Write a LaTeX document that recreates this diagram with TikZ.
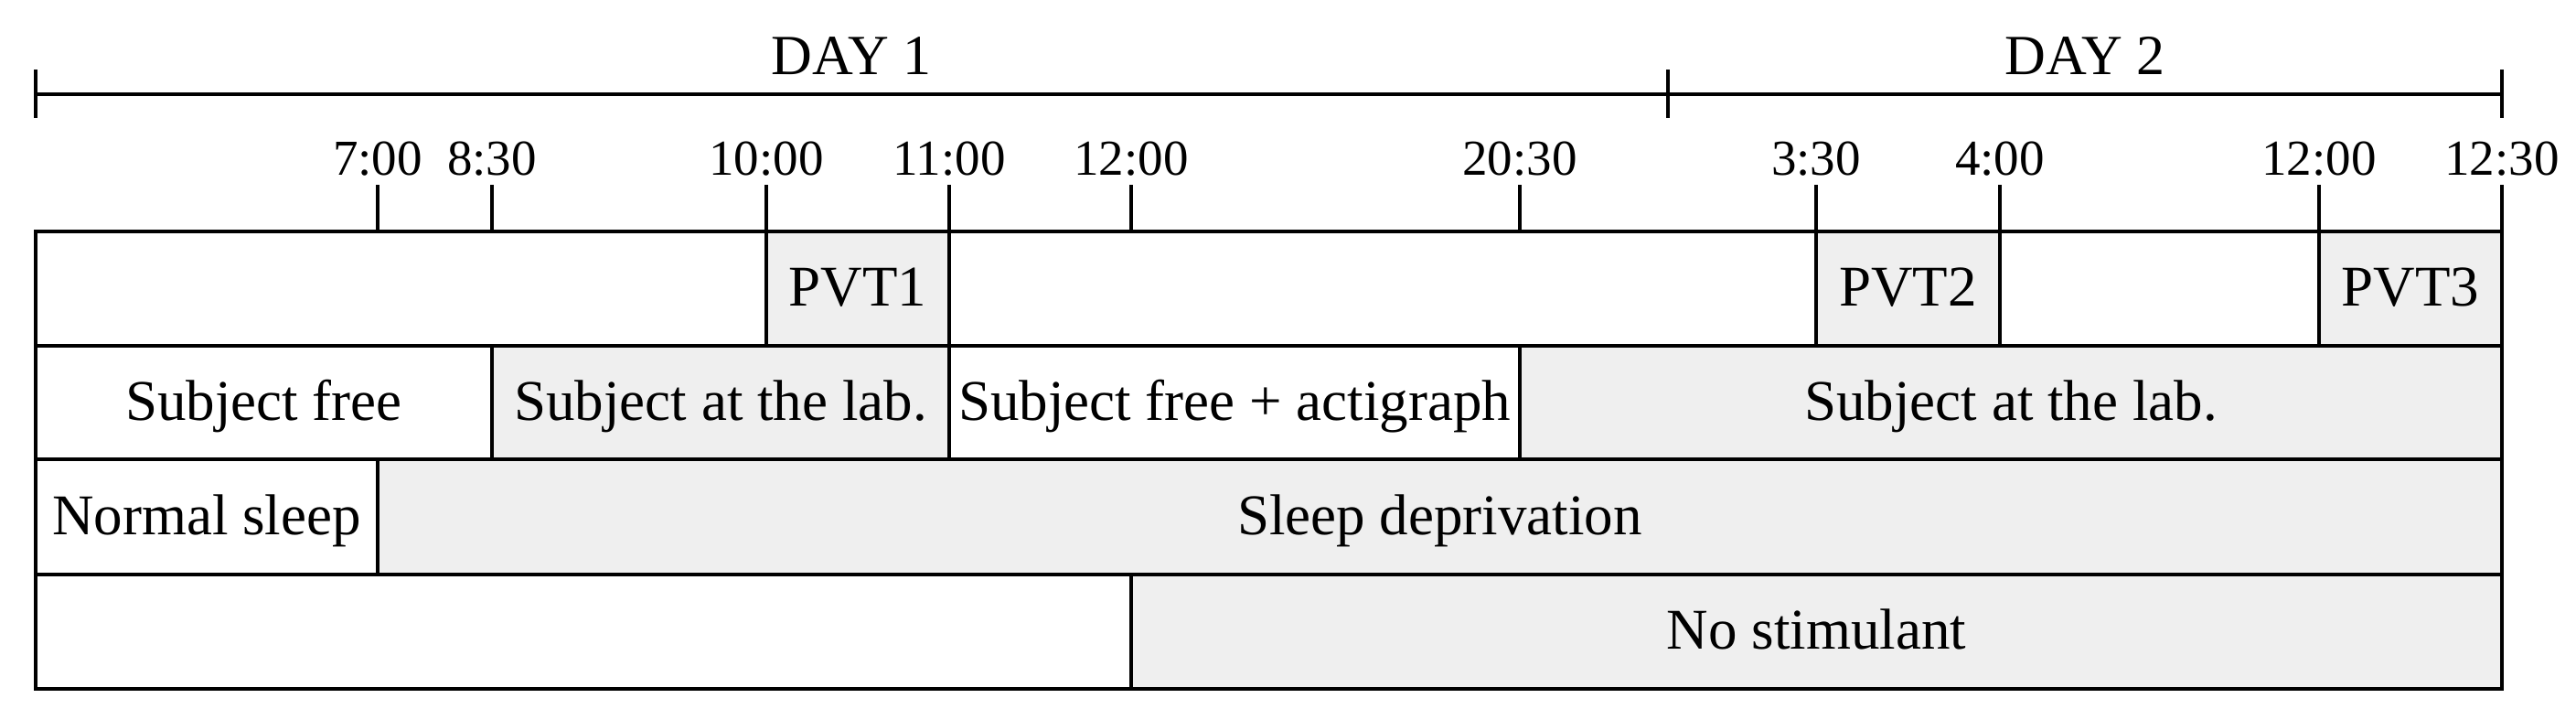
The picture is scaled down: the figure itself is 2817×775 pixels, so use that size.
\documentclass[tikz,border=0pt]{standalone}
\usepackage{fontspec}
\setmainfont{Liberation Serif}
\definecolor{cellgray}{HTML}{EFEFEF}
\tikzset{
  ln/.style={line width=4.5pt, black},
  whitecell/.style={ln, fill=white},
  graycell/.style={ln, fill=cellgray},
  celltext/.style={anchor=base, inner sep=0pt, font=\fontsize{63}{70}\selectfont},
  timetext/.style={anchor=base, inner sep=0pt, font=\fontsize{55}{60}\selectfont},
  daytext/.style={anchor=base, inner sep=0pt, font=\fontsize{62}{68}\selectfont},
}
\newcommand{\mycell}[7]{%
  \draw[#6] (#2,#4) rectangle (#3,#5);
  \node[celltext] (#1) at ({(#2+#3)/2},{(#4+#5)/2+19}) {#7};}
\begin{document}
\begin{tikzpicture}[x=1pt,y=-1pt]
\useasboundingbox (0,0) rectangle (2817,775);
% day timeline
\coordinate (d0) at (39,103);
\coordinate (d1) at (1824,103);
\coordinate (d2) at (2736,103);
\draw[ln] (d0) -- (d2);
\foreach \c in {d0,d1,d2} \draw[ln] ([yshift=-26pt]\c) -- ([yshift=27pt]\c);
\node[daytext] (day1) at (931,82) {DAY 1};
\node[daytext] (day2) at (2280,82) {DAY 2};
% rows
\mycell{r1a}{39}{838}{253}{378}{whitecell}{}
\mycell{pvt1}{838}{1038}{253}{378}{graycell}{PVT1}
\mycell{r1b}{1038}{1986}{253}{378}{whitecell}{}
\mycell{pvt2}{1986}{2187}{253}{378}{graycell}{PVT2}
\mycell{r1c}{2187}{2536}{253}{378}{whitecell}{}
\mycell{pvt3}{2536}{2736}{253}{378}{graycell}{PVT3}
\mycell{free1}{39}{538}{378}{502}{whitecell}{Subject free}
\mycell{lab1}{538}{1038}{378}{502}{graycell}{Subject at the lab.}
\mycell{free2}{1038}{1662}{378}{502}{whitecell}{Subject free + actigraph}
\mycell{lab2}{1662}{2736}{378}{502}{graycell}{Subject at the lab.}
\mycell{normal}{39}{413}{502}{628}{whitecell}{Normal sleep}
\mycell{depr}{413}{2736}{502}{628}{graycell}{Sleep deprivation}
\mycell{r4a}{39}{1237}{628}{753}{whitecell}{}
\mycell{nostim}{1237}{2736}{628}{753}{graycell}{No stimulant}
% time ticks and labels
\foreach \x/\t/\n in {413/7:00/ta,538/8:30/tb,838/10:00/tc,1038/11:00/td,1237/12:00/te,1662/20:30/tf,1986/3:30/tg,2187/4:00/th,2536/12:00/ti,2736/12:30/tj}{
  \coordinate (\n) at (\x,253);
  \draw[ln] (\n) -- ++(0,-51);
  \node[timetext] (\n l) at (\x,192) {\t};
}
\end{tikzpicture}
\end{document}
